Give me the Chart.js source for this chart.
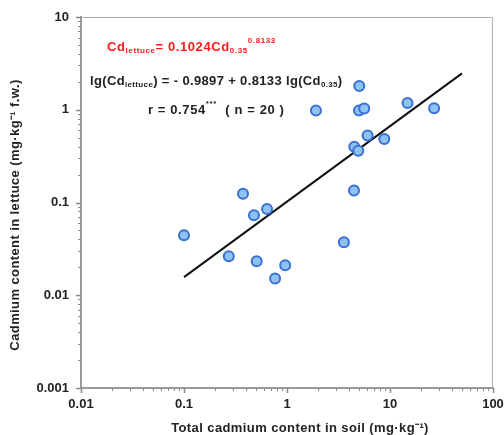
<!DOCTYPE html>
<html>
<head>
<meta charset="utf-8">
<script src="https://cdn.jsdelivr.net/npm/chart.js@4"></script>
<style>
  body { margin: 0; background: #fff; }
  #wrap { width: 504px; height: 435px; }
</style>
</head>
<body>
<div id="wrap"><canvas id="cdChart"></canvas></div>
<script>
// soil Cd (mg/kg) vs lettuce Cd (mg/kg f.w.)
const soilCd = [5.03, 1.91, 5.0, 5.62, 14.8, 26.8, 6.06, 8.8, 4.5, 4.92,
  0.374, 4.47, 0.478, 0.64, 0.1, 0.272, 0.508, 0.96, 0.766, 3.57];
const lettuceCd = [1.80, 0.98, 0.98, 1.03, 1.18, 1.04, 0.527, 0.485, 0.40, 0.362,
  0.124, 0.135, 0.0728, 0.0853, 0.0443, 0.0264, 0.0233, 0.0211, 0.0152, 0.0372];

// end points of the fitted line
const fitX = [0.1, 50];
const fitY = [0.0157, 2.47];

const xTickLabels = ['0.01', '0.1', '1', '10', '100'];
const yTickLabels = ['0.001', '0.01', '0.1', '1', '10'];

const FONT = '"Liberation Sans", Arial, sans-serif';
const TEXT = '#222';

function decadeTicks(labels) {
  const vals = labels.map(Number);
  const out = [];
  for (let i = 0; i < vals.length; i++) {
    out.push({ value: vals[i], major: true });
    if (i < vals.length - 1) {
      for (let k = 2; k <= 9; k++) out.push({ value: vals[i] * k, major: false });
    }
  }
  return out;
}

function tickLabel(labels) {
  return function (value) {
    const l = Math.log10(value);
    if (Math.abs(l - Math.round(l)) > 1e-6) return '';
    return labels.find(s => Math.abs(Number(s) - value) < value * 1e-6) || '';
  };
}

// rich text: [text, 'n' | 'sub' | 'sup']
function drawRich(ctx, x, y, parts, color, spacing) {
  ctx.save();
  ctx.fillStyle = color;
  ctx.textBaseline = 'middle';
  ctx.textAlign = 'left';
  ctx.letterSpacing = spacing + 'px';
  parts.forEach(([t, kind]) => {
    let dy = 0;
    if (kind === 'n') ctx.font = 'bold 13px ' + FONT;
    else ctx.font = 'bold 8px ' + FONT;
    if (kind === 'sub') dy = 4;
    if (kind === 'sup') dy = -6;
    ctx.fillText(t, x, y + dy);
    x += ctx.measureText(t).width;
  });
  ctx.restore();
}

const overlay = {
  id: 'overlay',
  beforeDatasetsDraw(chart) {
    const { ctx, chartArea: a, scales } = chart;
    ctx.save();
    ctx.strokeStyle = '#b0b0b0';
    ctx.lineWidth = 1;
    ctx.beginPath();
    ctx.moveTo(a.left, a.top + 0.5);
    ctx.lineTo(a.right - 0.5, a.top + 0.5);
    ctx.lineTo(a.right - 0.5, a.bottom);
    ctx.stroke();

    // tick marks: long on decades, short in between
    ctx.strokeStyle = '#888';
    scales.x.ticks.forEach(t => {
      const px = Math.round(scales.x.getPixelForValue(t.value)) + 0.5;
      ctx.lineWidth = t.major ? 1.5 : 1;
      ctx.beginPath();
      ctx.moveTo(px, a.bottom);
      ctx.lineTo(px, a.bottom + (t.major ? 5 : 3));
      ctx.stroke();
    });
    scales.y.ticks.forEach(t => {
      const py = Math.round(scales.y.getPixelForValue(t.value)) + 0.5;
      ctx.lineWidth = t.major ? 1.5 : 1;
      ctx.beginPath();
      ctx.moveTo(a.left, py);
      ctx.lineTo(a.left - (t.major ? 5 : 3), py);
      ctx.stroke();
    });
    ctx.restore();
  },
  afterDraw(chart) {
    const { ctx } = chart;
    drawRich(ctx, 107, 47, [['Cd', 'n'], ['lettuce', 'sub'], ['= 0.1024Cd', 'n'], ['0.35', 'sub'], ['0.8133', 'sup']], '#ff1a1a', 0.6);
    drawRich(ctx, 90, 81, [['lg(Cd', 'n'], ['lettuce', 'sub'], [') = - 0.9897 + 0.8133 lg(Cd', 'n'], ['0.35', 'sub'], [')', 'n']], TEXT, 0.35);
    drawRich(ctx, 148, 110, [['r = 0.754', 'n'], ['***', 'sup'], ['  ( n = 20 )', 'n']], TEXT, 0.6);

    ctx.save();
    ctx.fillStyle = TEXT;
    ctx.font = 'bold 13px ' + FONT;
    ctx.letterSpacing = '0.4px';
    ctx.textAlign = 'center';
    ctx.textBaseline = 'middle';
    ctx.fillText('Total cadmium content in soil (mg·kg⁻¹)', 300, 428);
    ctx.translate(15, 215);
    ctx.rotate(-Math.PI / 2);
    ctx.fillText('Cadmium content in lettuce (mg·kg⁻¹ f.w.)', 0, 0);
    ctx.restore();
  }
};

new Chart(document.getElementById('cdChart'), {
  data: {
    datasets: [
      {
        type: 'scatter',
        data: soilCd.map((x, i) => ({ x, y: lettuceCd[i] })),
        backgroundColor: '#8cc3f2',
        borderColor: '#3c6fd4',
        borderWidth: 2,
        pointRadius: 5
      },
      {
        type: 'line',
        data: fitX.map((x, i) => ({ x, y: fitY[i] })),
        borderColor: '#111',
        borderWidth: 2,
        pointRadius: 0,
        fill: false
      }
    ]
  },
  options: {
    responsive: true,
    maintainAspectRatio: false,
    animation: false,
    layout: { padding: { left: 0, top: 17, right: 11, bottom: 0 } },
    plugins: { legend: { display: false }, tooltip: { enabled: false } },
    scales: {
      x: {
        type: 'logarithmic',
        min: 0.01,
        max: 100,
        afterBuildTicks: s => { s.ticks = decadeTicks(xTickLabels); },
        afterFit: s => { s.height = 47; },
        grid: { drawOnChartArea: false, tickLength: 9, tickColor: 'rgba(0,0,0,0)' },
        border: { color: '#9a9a9a', width: 2 },
        ticks: {
          autoSkip: false,
          maxRotation: 0,
          padding: 0,
          color: TEXT,
          font: { family: FONT, size: 13, weight: 'bold' },
          callback: tickLabel(xTickLabels)
        }
      },
      y: {
        type: 'logarithmic',
        min: 0.001,
        max: 10,
        afterBuildTicks: s => { s.ticks = decadeTicks(yTickLabels); },
        afterFit: s => { s.width = 81; },
        grid: { drawOnChartArea: false, tickLength: 4, tickColor: 'rgba(0,0,0,0)' },
        border: { color: '#9a9a9a', width: 2 },
        ticks: {
          autoSkip: false,
          padding: 8,
          color: TEXT,
          font: { family: FONT, size: 13, weight: 'bold' },
          callback: tickLabel(yTickLabels)
        }
      }
    }
  },
  plugins: [overlay]
});
</script>
</body>
</html>
